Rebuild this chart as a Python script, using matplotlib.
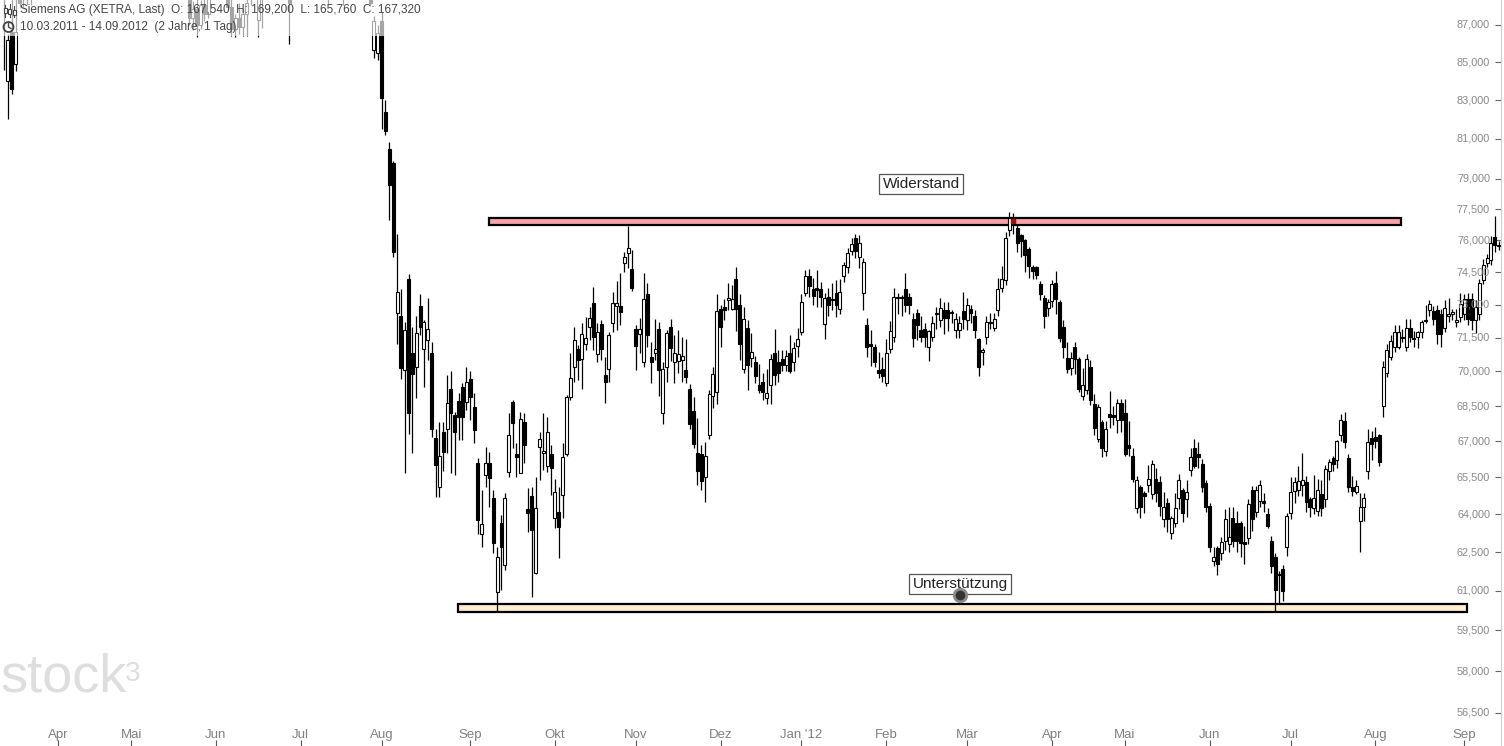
import matplotlib

matplotlib.use("Agg")

import matplotlib.pyplot as plt  # noqa: E402
import matplotlib.transforms as mtransforms  # noqa: E402
from matplotlib.lines import Line2D  # noqa: E402
from matplotlib.patches import Circle, Rectangle  # noqa: E402
from matplotlib.ticker import NullLocator  # noqa: E402
import numpy as np  # noqa: E402
import pandas as pd  # noqa: E402

W, H = 1504, 746

# --- daily OHLC, Siemens AG (XETRA), 10.03.2011 - 14.09.2012 ---
open_2011 = [
    93.5, 92.4, 91.0, 84.0, 86.6, 84.9, 89.5, 88.8, 90.2, 91.2, 91.5, 92.4, 93.1, 93.6, 93.0, 94.6,
    95.5, 96.4, 96.0, 97.1, 97.6, 96.5, 95.4, 95.9, 94.3, 93.6, 94.5, 95.2, 94.8, 95.3, 96.2, 96.8, 96.3, 97.0, 97.7,
    97.3, 97.0, 95.8, 94.8, 95.2, 94.1, 93.4, 94.2, 93.8, 92.7, 93.2, 91.8, 90.9, 91.4, 89.9, 88.9, 87.4, 87.9, 87.0, 88.1, 87.6, 89.0,
    89.8, 89.3, 88.8, 89.2, 88.0, 86.8, 87.4, 86.9, 87.6, 88.9, 89.2, 87.3, 88.9, 89.3, 89.9, 90.3, 89.8, 90.2, 89.6, 89.4, 88.6, 90.1,
    91.0, 92.0, 92.6, 92.1, 91.2, 90.3, 89.8, 90.2, 89.4, 90.5, 91.3, 90.0, 89.1, 90.2, 91.0, 91.6, 90.8, 89.9, 89.2, 85.65, 85.5,
    87.2, 82.4, 80.5, 79.8, 72.6, 72.5, 70.07, 74.2, 70.8, 70.2, 72.95, 71.0, 71.4, 70.8, 67.15, 65.1, 67.4, 67.5, 69.25, 68.1, 68.7, 69.3, 68.67,
    69.68, 68.47, 66.1, 63.2, 65.6, 66.1, 64.66, 60.97, 63.66, 62.0, 65.74, 68.67, 66.48, 65.7, 67.83, 64.22, 64.74, 61.7, 66.77, 66.52, 65.95, 66.48,
    63.85, 64.1, 64.79, 66.48, 68.9, 70.2, 71.0, 70.55, 71.22, 71.99, 73.07, 70.77, 72.13, 69.86, 70.11, 72.17, 72.94, 72.94, 74.94, 75.41, 74.66,
    71.9, 71.65, 70.4, 73.5, 70.65, 70.8, 71.9, 68.2, 70.2, 72.0, 70.4, 70.45, 70.5, 70.05, 69.25, 68.3, 66.5, 66.45, 65.5, 67.25, 68.95, 69.1,
    72.8, 72.9, 73.2, 72.8, 74.2, 73.0, 70.1, 71.95, 70.6, 70.4, 69.4, 69.55, 68.85, 69.4, 70.8, 70.4, 70.55, 70.3, 70.8, 70.4, 71.15,
]
high_2011 = [
    94.0, 93.0, 91.6, 86.5, 89.0, 89.0, 90.0, 90.5, 91.5, 92.0, 92.8, 93.5, 94.0, 94.2, 95.0, 96.0,
    96.8, 97.2, 97.5, 98.0, 98.2, 97.0, 96.2, 96.4, 95.0, 94.8, 95.6, 96.0, 95.5, 96.6, 97.0, 97.5, 97.2, 98.0, 98.4,
    98.0, 97.4, 96.2, 95.6, 95.9, 94.8, 94.5, 95.0, 94.2, 93.5, 93.6, 92.5, 91.8, 91.9, 90.4, 89.2, 88.3, 88.6, 88.4, 88.9, 89.3, 90.2,
    90.5, 89.8, 89.5, 89.6, 88.5, 87.6, 88.2, 87.9, 88.6, 89.5, 89.8, 89.2, 89.6, 90.2, 90.6, 91.0, 90.5, 90.8, 90.0, 89.8, 90.4, 91.2,
    92.3, 93.0, 93.4, 92.6, 91.8, 91.0, 90.6, 90.8, 90.7, 91.6, 91.8, 90.4, 90.5, 91.4, 91.9, 92.0, 91.2, 90.3, 89.6, 87.5, 87.0,
    87.7, 83.0, 80.85, 79.9, 76.3, 73.7, 72.2, 74.4, 72.0, 72.5, 73.5, 72.3, 73.3, 71.3, 67.5, 67.8, 67.8, 69.85, 70.0, 68.25, 69.07, 69.5, 70.2,
    70.0, 69.07, 66.3, 64.99, 66.77, 66.56, 65.0, 62.7, 63.98, 64.87, 68.2, 68.76, 66.94, 68.25, 68.2, 65.07, 65.1, 65.52, 67.4, 68.2, 68.04, 66.85,
    65.45, 65.1, 66.94, 68.98, 70.82, 71.99, 71.18, 72.17, 72.45, 72.9, 73.82, 72.17, 72.31, 70.64, 71.77, 73.59, 74.1, 74.47, 75.46, 76.7, 75.55,
    72.05, 72.4, 74.45, 74.0, 71.3, 72.35, 72.2, 70.4, 71.85, 72.35, 71.6, 71.85, 71.55, 71.45, 69.45, 68.9, 68.0, 66.85, 66.95, 69.2, 70.2, 73.5,
    73.0, 73.25, 74.0, 73.9, 74.75, 73.5, 72.9, 72.3, 71.7, 70.7, 70.35, 69.95, 70.1, 70.75, 71.9, 70.95, 70.95, 70.95, 71.6, 71.3, 71.95,
]
low_2011 = [
    92.0, 90.0, 84.6, 82.0, 83.3, 84.5, 88.0, 88.0, 88.1, 88.1, 90.9, 92.0, 92.5, 92.8, 92.8, 94.2,
    95.0, 95.8, 95.6, 96.5, 96.2, 95.0, 94.6, 94.0, 93.2, 93.0, 94.0, 94.5, 93.8, 95.0, 95.6, 96.0, 95.9, 96.6, 97.0,
    96.5, 95.5, 94.4, 94.0, 93.8, 93.0, 93.0, 93.5, 92.4, 92.0, 91.5, 90.6, 90.2, 89.6, 88.6, 87.0, 86.7, 86.35, 86.8, 87.2, 87.4, 88.7,
    89.0, 88.5, 88.5, 87.8, 86.4, 86.35, 86.5, 86.4, 86.4, 88.1, 88.6, 86.35, 86.85, 88.8, 89.1, 89.5, 89.0, 89.2, 88.6, 85.95, 88.5, 89.8,
    90.6, 91.5, 91.8, 90.8, 89.9, 89.4, 89.0, 88.1, 89.0, 90.0, 89.8, 88.1, 88.8, 89.9, 90.4, 90.5, 89.6, 88.8, 88.1, 85.2, 85.1,
    81.5, 81.2, 77.0, 75.2, 71.2, 69.65, 65.7, 67.3, 66.5, 68.85, 71.6, 69.3, 70.5, 67.2, 64.7, 64.7, 65.75, 66.5, 65.7, 65.6, 67.06, 67.06, 68.34,
    67.9, 66.94, 63.2, 62.7, 65.1, 64.3, 62.47, 60.2, 61.04, 61.8, 65.52, 66.72, 65.52, 65.66, 66.1, 63.3, 60.77, 61.66, 65.4, 65.82, 65.74, 64.79,
    63.47, 62.28, 63.86, 66.4, 68.76, 69.55, 69.64, 69.25, 70.95, 71.4, 70.95, 70.42, 70.51, 68.63, 69.55, 71.77, 71.86, 72.08, 74.52, 74.7, 73.63,
    70.05, 70.8, 70.2, 71.1, 69.5, 70.5, 68.95, 67.75, 69.55, 70.45, 69.5, 69.95, 69.55, 69.5, 67.5, 66.7, 65.2, 64.99, 64.5, 67.1, 68.4, 68.6,
    71.1, 72.3, 72.75, 72.75, 71.8, 70.5, 69.95, 69.2, 70.2, 69.5, 69.05, 68.75, 68.6, 68.6, 69.4, 69.55, 70.0, 70.0, 69.95, 70.0, 70.65,
]
close_2011 = [
    92.4, 91.0, 89.0, 86.2, 83.6, 86.6, 88.2, 90.2, 91.2, 91.5, 92.4, 93.1, 93.6, 93.0, 94.6, 95.5,
    96.4, 96.0, 97.1, 97.6, 96.5, 95.4, 95.9, 94.3, 93.6, 94.5, 95.2, 94.8, 95.3, 96.2, 96.8, 96.3, 97.0, 97.7, 97.3,
    97.0, 95.8, 94.8, 95.2, 94.1, 93.4, 94.2, 93.8, 92.7, 93.2, 91.8, 90.9, 91.4, 89.9, 88.9, 87.4, 87.9, 87.0, 88.1, 87.6, 89.0, 89.8,
    89.3, 88.8, 89.2, 88.0, 86.8, 87.4, 86.9, 87.6, 88.2, 89.2, 88.9, 88.9, 89.3, 89.9, 90.3, 89.8, 90.2, 89.6, 89.4, 88.2, 90.1, 91.0,
    92.0, 92.6, 92.1, 91.2, 90.3, 89.8, 90.2, 89.4, 90.5, 91.3, 90.0, 89.1, 90.2, 91.0, 91.6, 90.8, 89.9, 89.2, 88.2, 87.2, 86.55,
    83.1, 81.4, 78.7, 75.45, 73.6, 70.15, 71.86, 68.2, 69.9, 71.7, 72.0, 72.2, 71.9, 67.5, 66.0, 66.4, 66.55, 68.65, 68.2, 67.4, 68.05, 68.05, 69.55,
    68.9, 67.49, 63.78, 63.6, 66.1, 65.48, 62.87, 62.3, 62.7, 64.66, 67.27, 67.78, 66.35, 67.95, 66.85, 64.06, 63.39, 64.26, 67.1, 66.6, 67.4, 65.9,
    64.9, 63.5, 66.35, 68.9, 69.73, 71.4, 70.5, 71.68, 71.5, 72.4, 71.54, 71.77, 71.0, 69.55, 71.63, 73.07, 73.07, 72.67, 75.22, 75.65, 73.77,
    71.15, 71.9, 73.25, 71.6, 70.4, 71.0, 70.05, 70.1, 71.7, 71.05, 70.8, 70.75, 70.7, 69.75, 67.75, 66.9, 65.75, 65.35, 66.4, 69.0, 69.9, 72.7,
    72.0, 72.75, 73.3, 73.25, 72.8, 71.2, 72.35, 70.3, 70.85, 69.8, 69.2, 69.1, 69.05, 70.55, 69.85, 69.95, 70.3, 70.7, 70.0, 71.05, 71.45,
]

open_2012 = [
    71.75, 73.55, 74.3, 73.7, 73.75, 73.7, 72.1, 73.35, 73.25, 73.55, 72.8, 74.3, 74.75, 75.5, 76.1, 75.2, 73.55, 72.05, 71.2, 71.1, 70.05, 70.1,
    69.5, 71.0, 71.55, 73.3, 73.35, 73.7, 73.35, 72.35, 72.6, 71.85, 71.9, 71.1, 71.55, 72.55, 72.3, 72.75, 72.75, 72.6, 71.85, 71.85, 72.7,
    72.3, 72.8, 72.5, 71.45, 70.85, 71.55, 72.15, 71.95, 72.75, 73.75, 74.15, 76.5, 76.8, 76.6, 76.25, 76.0, 75.6, 74.75, 74.75, 73.95, 73.3, 72.85,
    73.15, 74.0, 73.1, 72.0, 70.6, 70.15, 71.1, 70.55, 68.95, 69.2, 70.2, 68.6, 67.1, 67.8, 66.6, 68.15, 68.1, 67.9, 68.65,
    68.2, 66.85, 66.4, 64.25, 65.1, 64.85, 65.2, 64.8, 65.45, 65.3, 63.8, 64.45, 63.25, 63.65, 64.65, 65.0, 64.6, 65.8, 66.7, 66.45, 66.05, 65.25,
    64.35, 62.15, 62.65, 62.45, 62.95, 62.8, 63.85, 63.65, 63.65, 62.9, 63.05, 65.0, 64.1, 64.55, 64.55, 64.0, 62.95, 62.3, 61.65, 61.85, 62.7,
    64.05, 64.95, 65.0, 65.2, 65.3, 64.6, 64.25, 64.15, 64.8, 64.6, 65.75, 66.3, 66.2, 67.25, 67.85, 66.3, 65.1, 64.9, 63.75, 64.3, 65.75, 67.15,
    67.2, 67.25, 68.5, 69.95, 70.65, 71.1, 71.1, 71.55, 71.1, 71.95, 71.5, 71.55, 71.75, 72.25, 72.75, 72.7, 72.75, 72.55, 71.95, 72.5, 72.55, 72.2, 72.45,
    72.55, 73.25, 73.25, 72.3, 72.55, 74.15, 74.95, 75.05, 76.15, 75.75,
]
high_2012 = [
    73.5, 74.6, 74.65, 74.25, 74.6, 74.05, 73.55, 73.75, 74.0, 74.15, 74.2, 75.0, 75.65, 76.1, 76.3, 76.25, 75.15, 72.4, 71.85, 71.2, 70.85, 70.65,
    71.45, 72.25, 73.75, 73.55, 73.45, 74.45, 73.55, 72.6, 72.8, 72.5, 72.15, 71.85, 72.5, 72.9, 73.3, 73.1, 73.1, 72.75, 72.6, 72.5, 73.6,
    73.3, 73.0, 72.75, 71.5, 71.05, 72.5, 72.6, 72.6, 74.25, 74.8, 76.4, 77.35, 77.3, 76.75, 76.3, 76.05, 75.7, 74.85, 74.8, 74.1, 73.45, 73.25,
    74.15, 74.55, 73.2, 72.3, 71.3, 70.85, 71.3, 70.65, 70.15, 70.75, 70.5, 69.0, 68.6, 67.9, 67.85, 69.15, 68.5, 68.8, 68.8,
    68.8, 67.85, 66.7, 65.55, 65.2, 64.95, 66.0, 66.2, 65.9, 65.55, 64.9, 64.65, 63.95, 64.85, 65.65, 65.05, 65.4, 66.7, 67.1, 66.95, 66.25, 65.4,
    64.45, 62.7, 62.75, 63.1, 64.2, 64.3, 64.3, 64.15, 63.75, 63.55, 64.6, 65.15, 65.15, 65.4, 64.85, 64.25, 63.15, 62.45, 61.75, 62.0, 64.05,
    65.5, 65.5, 65.95, 66.5, 65.55, 64.7, 65.6, 65.45, 65.4, 66.0, 66.25, 66.4, 67.05, 68.15, 68.25, 66.45, 65.55, 65.4, 64.85, 64.85, 67.5, 67.45,
    67.6, 67.3, 70.45, 71.2, 71.6, 72.05, 72.05, 71.9, 72.35, 72.35, 71.8, 71.8, 72.3, 73.0, 73.2, 72.95, 73.0, 72.8, 73.2, 73.3, 72.8, 72.8, 73.55,
    73.5, 73.55, 73.55, 73.2, 74.2, 75.1, 75.35, 76.2, 77.15, 75.95,
]
low_2012 = [
    71.6, 73.4, 73.35, 73.0, 72.9, 72.9, 71.45, 72.5, 72.75, 72.45, 72.55, 74.05, 74.45, 75.3, 75.15, 74.7, 72.75, 70.65, 70.25, 70.2, 69.7, 69.55,
    69.35, 70.8, 71.3, 72.55, 72.5, 72.65, 72.55, 71.1, 71.4, 71.3, 71.1, 70.45, 71.35, 71.9, 72.0, 71.65, 71.8, 72.15, 71.5, 71.5, 71.9,
    71.85, 72.15, 71.5, 69.8, 70.3, 71.2, 71.9, 71.8, 72.5, 73.6, 73.9, 76.2, 76.3, 75.45, 75.2, 74.5, 74.25, 74.2, 74.2, 73.2, 71.95, 72.5,
    72.9, 72.55, 71.3, 70.6, 69.95, 69.85, 69.9, 69.1, 68.75, 69.0, 68.55, 67.25, 66.95, 66.35, 66.4, 67.55, 67.7, 67.35, 67.4,
    66.4, 66.4, 65.3, 64.05, 63.85, 64.05, 64.9, 64.6, 64.5, 63.95, 63.5, 63.3, 63.0, 63.5, 64.2, 63.7, 63.9, 65.55, 65.9, 65.9, 64.9, 64.1,
    62.5, 61.95, 61.6, 62.2, 62.6, 62.5, 62.7, 62.5, 62.3, 62.05, 62.8, 63.35, 63.9, 64.3, 64.1, 63.45, 61.7, 60.2, 60.55, 60.6, 62.35,
    63.8, 64.45, 64.75, 64.75, 64.1, 63.9, 64.0, 63.95, 63.95, 64.3, 65.4, 65.75, 65.9, 67.0, 66.7, 64.9, 64.75, 64.8, 62.5, 63.75, 65.45, 66.2,
    66.7, 65.95, 68.05, 69.75, 70.5, 70.85, 71.0, 71.3, 70.9, 71.3, 71.1, 71.05, 71.5, 72.15, 72.5, 72.05, 71.2, 71.1, 71.75, 72.2, 72.3, 72.0, 72.2,
    72.3, 72.05, 71.85, 71.7, 72.3, 73.95, 74.75, 74.85, 75.45, 75.55,
]
close_2012 = [
    73.1, 74.3, 73.85, 73.4, 73.65, 73.35, 73.3, 73.0, 73.2, 73.0, 73.6, 74.85, 75.4, 75.85, 75.5, 75.9, 75.0, 71.1, 71.15, 70.4, 69.95, 69.8,
    70.8, 71.8, 73.35, 73.35, 73.3, 73.0, 73.0, 71.5, 72.05, 71.55, 71.55, 71.8, 72.15, 72.6, 72.85, 72.4, 72.4, 72.65, 72.35, 72.15, 72.35,
    73.0, 72.6, 71.85, 70.2, 70.95, 72.2, 72.2, 72.35, 73.7, 74.2, 76.1, 77.1, 77.0, 75.9, 75.95, 75.3, 74.8, 74.55, 74.35, 73.5, 72.5, 73.1,
    73.95, 73.25, 71.5, 71.1, 70.1, 70.6, 70.55, 69.25, 69.4, 70.55, 68.75, 67.55, 68.45, 66.7, 67.5, 68.05, 68.05, 68.65, 67.9,
    66.45, 66.7, 65.45, 65.4, 64.3, 64.75, 65.45, 66.05, 64.85, 64.35, 64.3, 63.8, 63.85, 64.25, 65.4, 64.05, 64.9, 66.35, 65.95, 66.35, 65.1, 64.3,
    62.7, 62.3, 62.05, 62.9, 63.8, 63.1, 62.95, 62.95, 62.85, 62.8, 64.4, 63.8, 65.0, 65.2, 64.45, 63.55, 61.95, 61.05, 61.6, 61.0, 63.95,
    64.9, 65.3, 65.35, 65.4, 64.5, 64.3, 64.65, 65.0, 64.25, 65.85, 66.15, 66.05, 67.0, 67.9, 66.95, 65.1, 64.95, 65.15, 64.3, 64.65, 66.95, 66.9,
    67.0, 66.15, 70.2, 70.95, 71.35, 71.75, 71.75, 71.5, 71.95, 71.55, 71.45, 71.75, 72.2, 72.3, 73.05, 72.35, 71.65, 71.65, 72.85, 72.55, 72.65, 72.3, 73.05,
    73.25, 72.35, 72.3, 72.9, 74.0, 74.85, 75.15, 75.9, 75.8, 75.8,
]

month_labels = ["Apr", "Mai", "Jun", "Jul", "Aug", "Sep", "Okt", "Nov", "Dez",
                "Jan '12", "Feb", "Mär", "Apr", "Mai", "Jun", "Jul", "Aug", "Sep"]
y_ticks = [56.5, 58.0, 59.5, 61.0, 62.5, 64.0, 65.5, 67.0, 68.5, 70.0, 71.5,
           73.0, 74.5, 76.0, 77.5, 79.0, 81.0, 83.0, 85.0, 87.0]

resistance = (76.72, 77.10)
support = (60.18, 60.48)

header = "Siemens AG (XETRA, Last)  O: 167,540  H: 169,200  L: 165,760  C: 167,320"
period = "10.03.2011 - 14.09.2012  (2 Jahre, 1 Tag)"

# trading calendar (Xetra holidays removed)
holidays = pd.to_datetime(["2011-04-22", "2011-04-25", "2011-12-26",
                           "2012-04-06", "2012-04-09", "2012-05-01"])
days = pd.bdate_range("2011-03-10", "2012-09-14")
days = days[~days.isin(holidays)]

o = np.array(open_2011 + open_2012)
h = np.array(high_2011 + high_2012)
lo = np.array(low_2011 + low_2012)
c = np.array(close_2011 + close_2012)
assert len(o) == len(h) == len(lo) == len(c) == len(days)
x = np.arange(len(days))

month_start = [i for i in range(1, len(days)) if days[i].month != days[i - 1].month]

plt.rcParams["font.family"] = ["Liberation Sans", "DejaVu Sans"]

fig = plt.figure(figsize=(W / 100, H / 100), dpi=100)
ax = fig.add_axes([0, 0, 1501 / W, 1])
ax.set_yscale("log")
x0, x1 = 0.934, 390.6
ax.set_xlim(x0, x1)
ax.set_ylim(55.34, 88.375)


def px_x(px):
    return x0 + px * (x1 - x0) / 1501


# support / resistance bands
for (y_lo, y_hi), fill, (a, b) in [(resistance, "#f8a2ab", (489, 1401)),
                                   (support, "#fdefcf", (458, 1467))]:
    ax.add_patch(Rectangle((px_x(a), y_lo), px_x(b) - px_x(a), y_hi - y_lo,
                           facecolor=fill, edgecolor="black", linewidth=1.6, zorder=1))

# candles
up = c >= o
ax.vlines(x, lo, h, color="black", linewidth=0.9, zorder=2)
bottoms = np.minimum(o, c)
heights = np.maximum(np.abs(c - o), 0.04)
ax.bar(x, heights, bottom=bottoms, width=0.78,
       color=np.where(up, "white", "black"), edgecolor="black", linewidth=0.8, zorder=3)

# annotations
ax.text(px_x(921), 78.74, "Widerstand", ha="center", va="center", fontsize=11, color="#222",
        bbox=dict(boxstyle="square,pad=0.2", fc="white", ec="#555", lw=0.9), zorder=6)
ax.text(px_x(960), 61.27, "Unterstützung", ha="center", va="center", fontsize=11, color="#222",
        bbox=dict(boxstyle="square,pad=0.2", fc="white", ec="#555", lw=0.9), zorder=6)
ax.plot(px_x(960), 60.85, "o", ms=9, mfc="#333", mec="#8a8a8a", mew=2, zorder=7)
ax.plot(px_x(1013), 76.92, "s", ms=3, color="#9b1010", zorder=7)

# axes styling
for side in ("top", "left", "bottom"):
    ax.spines[side].set_visible(False)
ax.spines["right"].set_color("#d0d0d0")
ax.yaxis.set_minor_locator(NullLocator())
ax.xaxis.set_minor_locator(NullLocator())
ax.set_yticks(y_ticks)
ax.yaxis.tick_right()
ax.tick_params(axis="y", direction="in", length=4, width=0.8, color="#666",
               labelright=False, labelleft=False)
ax.set_xticks(month_start)
ax.tick_params(axis="x", direction="in", length=4, width=0.8, color="#555", labelbottom=False)

ytrans = mtransforms.blended_transform_factory(ax.transAxes, ax.transData)
for v in y_ticks:
    ax.text(1490 / 1501, v, f"{v:.3f}".replace(".", ","),
            transform=ytrans, ha="right", va="center", fontsize=7.8, color="#888888")

xtrans = mtransforms.blended_transform_factory(ax.transData, ax.transAxes)
for idx, lab in zip(month_start, month_labels):
    ax.text(idx, 11 / H, lab, transform=xtrans, ha="center", va="center", fontsize=9.5,
            color="#808080", family=["Liberation Sans Narrow", "Liberation Sans", "DejaVu Sans"])

# header overlay and texts (pixel coordinates, y downwards)
pix = mtransforms.Affine2D().scale(1 / W, -1 / H).translate(0, 1) + fig.transFigure
fig.add_artist(Rectangle((0, 0), 432, 36, transform=pix, facecolor="white", alpha=0.65,
                         edgecolor="none", zorder=5))
fig.text(20 / W, 1 - 10 / H, header, va="center", ha="left", fontsize=8.5, color="#444", zorder=6)
fig.text(20 / W, 1 - 27 / H, period, va="center", ha="left", fontsize=8.5, color="#444", zorder=6)
for cx, top, bot, y0, y1 in [(5, 5, 17, 8, 13), (9.5, 4, 17, 9, 14), (14, 6, 17, 10, 15)]:
    fig.add_artist(Line2D([cx, cx], [top, bot], transform=pix, color="#444", lw=0.8, zorder=6))
    fig.add_artist(Rectangle((cx - 1.5, y0), 3, y1 - y0, transform=pix, facecolor="white",
                             edgecolor="#444", lw=0.8, zorder=7))
fig.add_artist(Circle((8.5, 27), 5, transform=pix, facecolor="none", edgecolor="#444", lw=1.3, zorder=6))
fig.add_artist(Line2D([8.5, 8.5, 11], [23.5, 27, 28.5], transform=pix, color="#444", lw=1, zorder=6))

# watermark
fig.text(1 / W, 1 - 692 / H, "stock", fontsize=39, color="#dedede", va="baseline", ha="left", zorder=6)
fig.text(125 / W, 1 - 681 / H, "3", fontsize=20, color="#dedede", va="baseline", ha="left", zorder=6)

fig.savefig("out.png", dpi=100)
